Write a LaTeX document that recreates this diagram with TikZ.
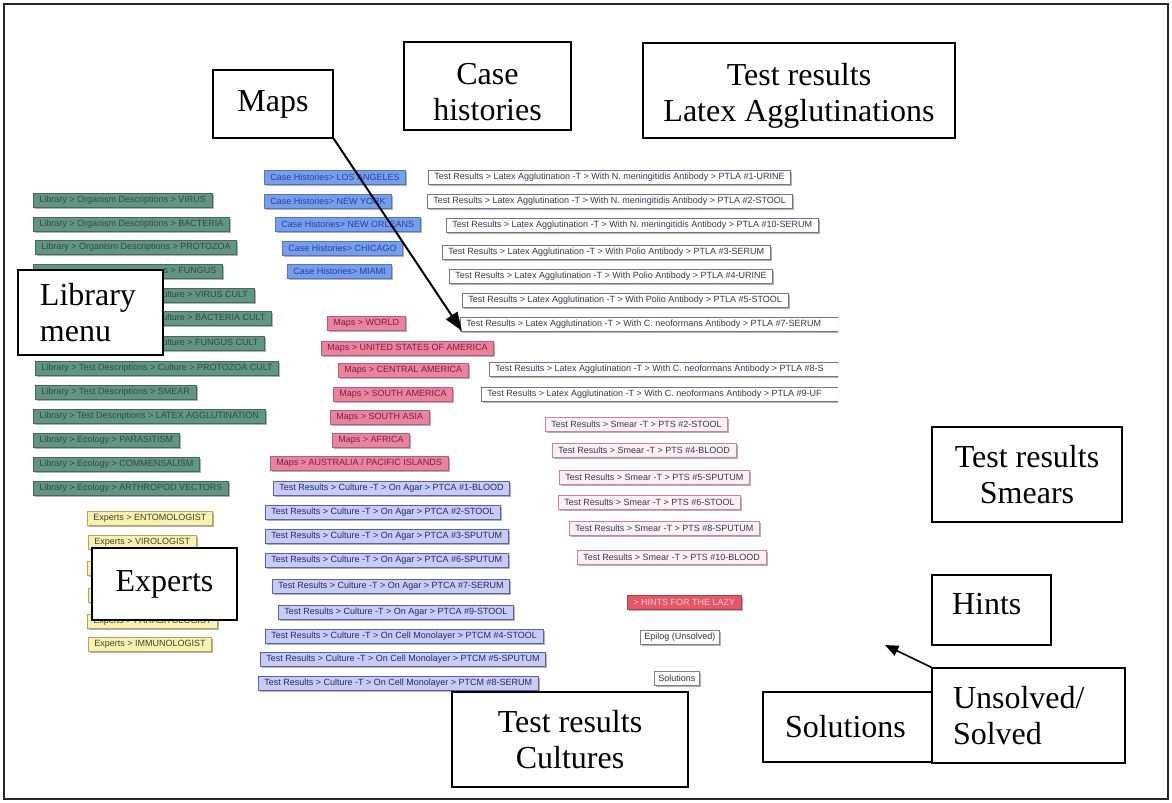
\documentclass[tikz,border=0pt]{standalone}
\usepackage{fontspec}
\setmainfont{Liberation Serif}
\newfontfamily\tagfont{Liberation Sans}
\usetikzlibrary{arrows.meta,shadows}

\definecolor{libfill}{RGB}{98,150,132}
\definecolor{libtext}{RGB}{50,72,66}
\definecolor{casefill}{RGB}{118,158,238}
\definecolor{casetext}{RGB}{40,66,150}
\definecolor{mapfill}{RGB}{234,130,160}
\definecolor{maptext}{RGB}{120,35,65}
\definecolor{cultfill}{RGB}{198,204,246}
\definecolor{cultdraw}{RGB}{95,95,170}
\definecolor{culttext}{RGB}{40,40,100}
\definecolor{smearfill}{RGB}{253,240,245}
\definecolor{smeardraw}{RGB}{205,130,160}
\definecolor{lattext}{RGB}{55,55,80}
\definecolor{latdraw}{RGB}{120,115,140}
\definecolor{expfill}{RGB}{248,241,178}
\definecolor{expdraw}{RGB}{175,165,95}
\definecolor{expText}{RGB}{70,65,40}
\definecolor{hintfill}{RGB}{226,88,102}
\definecolor{hinttext}{RGB}{255,195,205}

\tikzset{
  tagbox/.style={draw,anchor=west,font=\tagfont\fontsize{6.75}{7}\selectfont,
    inner xsep=4.5pt,inner ysep=0pt,minimum height=10.5pt,
    drop shadow={shadow xshift=1.3pt,shadow yshift=-1.3pt,fill=black,opacity=.3}},
  libtag/.style={tagbox,fill=libfill,draw=libfill!70!black,text=libtext},
  casetag/.style={tagbox,fill=casefill,draw=casefill!75!black,text=casetext},
  maptag/.style={tagbox,fill=mapfill,draw=mapfill!75!black,text=maptext},
  culttag/.style={tagbox,fill=cultfill,draw=cultdraw,text=culttext},
  lattag/.style={tagbox,fill=white,draw=latdraw,text=lattext},
  smeartag/.style={tagbox,fill=smearfill,draw=smeardraw,text=lattext},
  exptag/.style={tagbox,fill=expfill,draw=expdraw,text=expText},
  hinttag/.style={tagbox,fill=hintfill,draw=hintfill!75!black,text=hinttext},
  plaintag/.style={tagbox,fill=white,draw=gray,text=black!80,inner xsep=3pt},
  bigbox/.style={draw,line width=1.2pt,fill=white,font=\fontsize{24}{27}\selectfont,
    align=center,inner xsep=0pt,inner ysep=0pt},
}

\begin{document}
\begin{tikzpicture}[x=0.75pt,y=-0.75pt]
\useasboundingbox (0,0) rectangle (1172,803);
\draw[line width=0.8pt,black!85] (4,4) rectangle (1168,799);

% library tags (some lie under the "Library menu" box)
\foreach \x/\y/\t [count=\i] in {33/200/Library > Organism Descriptions > VIRUS,
    33/224/Library > Organism Descriptions > BACTERIA,35/247/Library > Organism Descriptions > PROTOZOA,
    33/271/\phantom{Library > Organism Description}s > FUNGUS,
    33/295/\phantom{Library > Test Descriptions > C}ulture > VIRUS CULT,
    33/318/\phantom{Library > Test Descriptions > C}ulture > BACTERIA CULT,
    33/343/\phantom{Library > Test Descriptions > C}ulture > FUNGUS CULT,
    35/368/Library > Test Descriptions > Culture > PROTOZOA CULT,35/392/Library > Test Descriptions > SMEAR,
    33/416/Library > Test Descriptions > LATEX AGGLUTINATION,33/440/Library > Ecology > PARASITISM,
    33/464/Library > Ecology > COMMENSALISM,33/488/Library > Ecology > ARTHROPOD VECTORS}
  \node[libtag] (lib\i) at (\x,\y) {\t};

% experts
\node[exptag] (exp1) at (87,518) {Experts > ENTOMOLOGIST};
\node[exptag] (exp2) at (88,542) {Experts > VIROLOGIST};
\node[exptag,minimum width=95pt] (exp3) at (87,568) {};
\node[exptag,minimum width=95pt] (exp4) at (88,595) {};
\node[exptag] (exp5) at (87,621) {Experts > PARASITOLOGIST};
\node[exptag] (exp6) at (88,644) {Experts > IMMUNOLOGIST};

% case histories
\foreach \x/\y/\t [count=\i] in {264/177/LOS ANGELES,264/201/NEW YORK,
    275/224/NEW ORLEANS,282/248/CHICAGO,287/271/MIAMI}
  \node[casetag] (case\i) at (\x,\y) {Case Histories> \t};

% maps
\foreach \x/\y/\t [count=\i] in {327/323/WORLD,321/348/UNITED STATES OF AMERICA,
    338/370/CENTRAL AMERICA,333/394/SOUTH AMERICA,330/417/SOUTH ASIA,
    332/440/AFRICA,270/463/{AUSTRALIA / PACIFIC ISLANDS}}
  \node[maptag] (map\i) at (\x,\y) {Maps > \t};

% cultures
\foreach \x/\y/\t [count=\i] in {273/488/On Agar > PTCA \#1-BLOOD,
    265/512/On Agar > PTCA \#2-STOOL,265/536/On Agar > PTCA \#3-SPUTUM,
    265/560/On Agar > PTCA \#6-SPUTUM,272/586/On Agar > PTCA \#7-SERUM,
    278/612/On Agar > PTCA \#9-STOOL,265/636/On Cell Monolayer > PTCM \#4-STOOL,
    260/659/On Cell Monolayer > PTCM \#5-SPUTUM,258/683/On Cell Monolayer > PTCM \#8-SERUM}
  \node[culttag] (cult\i) at (\x,\y) {Test Results > Culture -T > \t};

% latex agglutinations, cut off at the right
\begin{scope}
\clip (0,0) rectangle (838,803);
\foreach \x/\y/\t [count=\i] in {428/177/N. meningitidis Antibody > PTLA \#1-URINE,
    427/201/N. meningitidis Antibody > PTLA \#2-STOOL,
    446/225/N. meningitidis Antibody > PTLA \#10-SERUM,
    442/252/Polio Antibody > PTLA \#3-SERUM,449/276/Polio Antibody > PTLA \#4-URINE,
    462/300/Polio Antibody > PTLA \#5-STOOL,
    460/324/C. neoformans Antibody > PTLA \#7-SERUM\hspace*{20pt},
    489/369/C. neoformans Antibody > PTLA \#8-S\hspace*{30pt},
    481/394/C. neoformans Antibody > PTLA \#9-UF\hspace*{30pt}}
  \node[lattag] (lat\i) at (\x,\y) {Test Results > Latex Agglutination -T > With \t};
\end{scope}

% smears
\foreach \x/\y/\t [count=\i] in {545/424/\#2-STOOL,552/450/\#4-BLOOD,
    559/477/\#5-SPUTUM,558/502/\#6-STOOL,569/528/\#8-SPUTUM,577/557/\#10-BLOOD}
  \node[smeartag] (smear\i) at (\x,\y) {Test Results > Smear -T > PTS \t};

\node[hinttag] (lazy) at (627,602) {> HINTS FOR THE LAZY};
\node[plaintag] (epilog) at (640,637) {Epilog (Unsolved)};
\node[plaintag] (sol) at (654,678) {Solutions};

% big labels
\node[bigbox,minimum width=90pt,minimum height=51pt] (maps) at (273,104) {Maps};
\node[bigbox,minimum width=125.25pt,minimum height=66pt] (cases) at (487.5,86)
  {\rule{0pt}{25pt}Case\\histories};
\node[bigbox,minimum width=234pt,minimum height=71.25pt] (latex) at (799,90.5)
  {\rule{0pt}{24pt}Test results\\Latex Agglutinations};
\node[bigbox,minimum height=63.75pt,text width=75.75pt,inner xsep=16.5pt,align=left]
  (libmenu) at (90.5,312.5) {Library\\menu};
\node[bigbox,minimum width=108.75pt,minimum height=54pt] (experts) at (164.5,584) {Experts};
\node[bigbox,minimum width=142.5pt,minimum height=71.25pt] (smears) at (1027,474.5)
  {Test results\\Smears};
\node[bigbox,minimum height=52.5pt,text width=59.25pt,inner xsep=15pt,align=left]
  (hints) at (991.5,610) {Hints\rule[-9pt]{0pt}{9pt}};
\node[bigbox,minimum height=52.5pt,text width=93.75pt,inner xsep=16.5pt,align=left]
  (solutions) at (847.5,727) {Solutions};
\node[bigbox,minimum height=71.25pt,text width=113.25pt,inner xsep=15.75pt,align=left]
  (unsolved) at (1028.5,715.5) {Unsolved/\\Solved};
\node[bigbox,minimum width=177pt,minimum height=71.25pt] (cultures) at (570,739.5)
  {Test results\\Cultures};

\coordinate (mapstip) at (462,331);
\coordinate (hintstip) at (885,645);
\draw[line width=1.5pt,-{Triangle[length=14pt,width=10pt]}] (maps.south east) -- (mapstip);
\draw[line width=1.2pt,-{Triangle[length=10pt,width=8pt]}] (unsolved.north west) -- (hintstip);
\end{tikzpicture}
\end{document}
